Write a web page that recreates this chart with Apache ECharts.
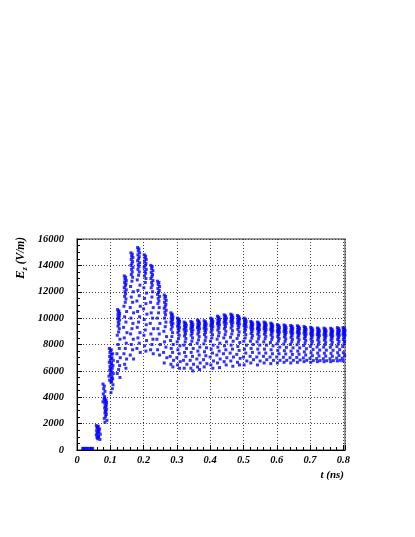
<!DOCTYPE html>
<html>
<head>
<meta charset="utf-8">
<script src="https://cdn.jsdelivr.net/npm/echarts@6/dist/echarts.min.js"></script>
<style>
    html, body {margin: 0; padding: 0; background: #fff;}
    #chart {width: 415px; height: 537px;}
</style>
</head>
<body>
<div id="chart"></div>
<script>
// time of each column of samples (ns)
const stripeT = [0.017, 0.021, 0.025, 0.029, 0.033, 0.039, 0.043, 0.047,
    0.061, 0.067, 0.081, 0.086, 0.100, 0.106,
    0.125, 0.145, 0.165, 0.185, 0.205, 0.225, 0.245, 0.265, 0.285, 0.305,
    0.325, 0.345, 0.365, 0.385, 0.405, 0.425, 0.445, 0.465, 0.485, 0.505,
    0.525, 0.545, 0.565, 0.585, 0.605, 0.625, 0.645, 0.665, 0.685, 0.705,
    0.725, 0.745, 0.765, 0.785, 0.802];

// small time shift (ns) of the n-th sample inside a column, the columns are a few px wide
const subT = [-0.003, 0.001, -0.001, 0.003, -0.002, 0.002, 0, -0.003, 0.003, -0.001,
    0.001, -0.002, 0.002, 0, -0.004, 0.004, -0.002, 0.002, -0.005, 0.005,
    -0.003, 0.003, 0, -0.004, 0.004, -0.002, 0.002, -0.005, 0.005];

// Ez values (V/m), top to bottom
const stripeE = [
    [120], [120], [120], [120], [120], [120], [120], [120],
    [1850, 1750, 1650, 1550, 1450, 1350, 1250, 1150, 1050, 950, 850],
    [1800, 1600, 1400, 1200, 1000, 800],
    [5000, 4850, 4650, 4450, 4250, 4050, 3850, 3650],
    [3950, 3800, 3700, 3600, 3500, 3400, 3300, 3200, 3100, 3000, 2900, 2800, 2700, 2550, 2400, 2250, 2100],
    [7700, 7550, 7400, 7250, 7100, 6950, 6800, 6650, 6500, 6350, 6200, 6050, 5900, 5750, 5600, 5450, 5300, 5150],
    [7600, 7300, 7000, 6800, 6600, 6400, 6200, 6000, 5800, 5600, 5400, 5200, 4950, 4650, 4350],
    [10650, 10550, 10450, 10350, 10250, 10150, 10050, 9950, 9850, 9700, 9550, 9400, 9200, 8950, 8700, 8400, 8000, 7700, 7300, 7000, 6700, 6400, 6100, 5800, 5500],
    [13200, 13100, 12950, 12850, 12700, 12600, 12450, 12300, 12150, 12000, 11850, 11650, 11450, 11200, 10900, 10500, 10100, 9700, 9300, 8900, 8500, 8100, 7700, 7300, 6900, 6500, 6200],
    [14950, 14850, 14700, 14600, 14450, 14300, 14150, 14000, 13850, 13700, 13500, 13300, 13100, 12800, 12400, 12000, 11600, 11200, 10800, 10400, 10000, 9600, 9200, 8800, 8400, 8000, 7600, 7200, 6900],
    [15350, 15250, 15100, 14950, 14800, 14650, 14500, 14350, 14200, 14050, 13900, 13700, 13500, 13250, 12900, 12500, 12100, 11700, 11300, 10900, 10500, 10100, 9700, 9300, 8900, 8500, 8100, 7700, 7400],
    [14800, 14700, 14550, 14450, 14300, 14150, 14000, 13850, 13700, 13550, 13400, 13200, 13000, 12700, 12300, 11900, 11500, 11100, 10700, 10300, 9900, 9500, 9100, 8700, 8300, 7900, 7500],
    [14000, 13900, 13750, 13600, 13450, 13300, 13150, 13000, 12850, 12700, 12500, 12300, 12000, 11600, 11200, 10800, 10400, 10000, 9600, 9200, 8800, 8400, 8000, 7600, 7300],
    [12800, 12700, 12550, 12400, 12250, 12100, 11950, 11800, 11650, 11500, 11300, 11100, 10800, 10400, 10000, 9600, 9200, 8800, 8400, 8000, 7600, 7200],
    [11750, 11650, 11500, 11350, 11200, 11050, 10900, 10750, 10600, 10450, 10250, 10000, 9700, 9350, 9000, 8600, 8200, 7800, 7400, 7000, 6600],
    [10400, 10300, 10200, 10100, 10000, 9900, 9800, 9700, 9600, 9500, 9350, 9150, 8900, 8600, 8300, 8000, 7700, 7400, 7100, 6800, 6500, 6300],
    [10000, 9920, 9840, 9760, 9680, 9600, 9500, 9400, 9300, 9200, 9050, 8900, 8700, 8450, 8200, 7900, 7600, 7300, 7000, 6700, 6450, 6200],
    [9700, 9620, 9550, 9480, 9400, 9320, 9240, 9150, 9050, 8950, 8800, 8650, 8450, 8200, 7950, 7700, 7400, 7100, 6800, 6500, 6200],
    [9750, 9680, 9600, 9520, 9440, 9360, 9280, 9200, 9100, 9000, 8850, 8700, 8500, 8250, 8000, 7700, 7400, 7100, 6800, 6500, 6200, 6000],
    [9850, 9770, 9690, 9610, 9530, 9450, 9370, 9290, 9200, 9100, 8950, 8800, 8600, 8350, 8100, 7800, 7500, 7200, 6900, 6600, 6300, 6100],
    [9800, 9720, 9640, 9560, 9480, 9400, 9320, 9240, 9150, 9050, 8900, 8750, 8550, 8300, 8050, 7750, 7450, 7150, 6850, 6550, 6300],
    [10000, 9920, 9840, 9760, 9680, 9600, 9520, 9440, 9350, 9250, 9100, 8950, 8750, 8500, 8250, 7950, 7650, 7350, 7050, 6750, 6450, 6200],
    [10150, 10070, 9990, 9910, 9830, 9750, 9670, 9590, 9500, 9400, 9250, 9100, 8900, 8650, 8400, 8100, 7800, 7500, 7200, 6900, 6600, 6250],
    [10250, 10170, 10090, 10010, 9930, 9850, 9770, 9690, 9600, 9500, 9350, 9200, 9000, 8750, 8500, 8200, 7900, 7600, 7300, 7000, 6700, 6450],
    [10300, 10220, 10140, 10060, 9980, 9900, 9820, 9740, 9650, 9550, 9400, 9250, 9050, 8800, 8550, 8250, 7950, 7650, 7350, 7050, 6750, 6350],
    [10200, 10120, 10040, 9960, 9880, 9800, 9720, 9640, 9550, 9450, 9300, 9150, 8950, 8700, 8450, 8150, 7850, 7550, 7250, 6950, 6650, 6450],
    [10000, 9920, 9840, 9760, 9680, 9600, 9520, 9440, 9350, 9250, 9100, 8950, 8750, 8500, 8250, 7950, 7650, 7350, 7050, 6750, 6450],
    [9750, 9680, 9610, 9540, 9470, 9400, 9330, 9260, 9180, 9100, 8970, 8840, 8680, 8480, 8250, 8000, 7700, 7400, 7100, 6850, 6600],
    [9700, 9630, 9560, 9490, 9420, 9350, 9280, 9210, 9130, 9050, 8920, 8790, 8630, 8430, 8200, 7950, 7650, 7350, 7050, 6750, 6450],
    [9700, 9630, 9560, 9490, 9420, 9350, 9280, 9210, 9130, 9050, 8920, 8790, 8630, 8430, 8200, 7950, 7650, 7350, 7100, 6850, 6600],
    [9620, 9550, 9480, 9410, 9340, 9270, 9200, 9130, 9050, 8970, 8850, 8720, 8570, 8380, 8150, 7900, 7600, 7300, 7050, 6800, 6550],
    [9500, 9430, 9360, 9290, 9220, 9150, 9080, 9010, 8930, 8850, 8730, 8600, 8450, 8260, 8050, 7800, 7550, 7300, 7050, 6800, 6600],
    [9480, 9410, 9340, 9270, 9200, 9130, 9060, 8990, 8910, 8830, 8710, 8580, 8430, 8240, 8030, 7780, 7530, 7280, 7030, 6800, 6650],
    [9440, 9370, 9300, 9230, 9160, 9090, 9020, 8950, 8870, 8790, 8670, 8540, 8390, 8200, 8000, 7750, 7500, 7250, 7000, 6800, 6600],
    [9420, 9350, 9280, 9210, 9140, 9070, 9000, 8930, 8850, 8770, 8650, 8520, 8370, 8180, 7980, 7740, 7500, 7260, 7020, 6820, 6650],
    [9360, 9290, 9220, 9150, 9080, 9010, 8940, 8870, 8790, 8710, 8590, 8460, 8310, 8120, 7920, 7680, 7440, 7200, 6980, 6800, 6700],
    [9300, 9230, 9160, 9090, 9020, 8950, 8880, 8810, 8730, 8650, 8530, 8400, 8250, 8060, 7860, 7620, 7380, 7150, 6950, 6780, 6650],
    [9250, 9180, 9110, 9040, 8970, 8900, 8830, 8760, 8680, 8600, 8480, 8350, 8200, 8010, 7810, 7580, 7350, 7130, 6930, 6780, 6700],
    [9240, 9170, 9100, 9030, 8960, 8890, 8820, 8750, 8670, 8590, 8470, 8340, 8190, 8000, 7800, 7570, 7340, 7120, 6920, 6770, 6700],
    [9230, 9160, 9090, 9020, 8950, 8880, 8810, 8740, 8660, 8580, 8460, 8330, 8180, 7990, 7790, 7560, 7330, 7110, 6920, 6780, 6700],
    [9280, 9210, 9140, 9070, 9000, 8930, 8860, 8790, 8710, 8630, 8510, 8380, 8230, 8040, 7840, 7610, 7380, 7160, 6960, 6800, 6750],
    [9280, 9210, 9140, 9070, 9000, 8930, 8860, 8790, 8710, 8630, 8510, 8380, 8230, 8040, 7840, 7610, 7380, 7160, 6960, 6800, 6750]
];

const xTicks = ['0', '0.1', '0.2', '0.3', '0.4', '0.5', '0.6', '0.7', '0.8'];

// flatten columns into [t, E] points
let points = [];
for (let i = 0; i < stripeT.length; i++) {
    for (let j = 0; j < stripeE[i].length; j++) {
        let dt = stripeE[i].length > 1 ? subT[j] : 0;
        points.push([stripeT[i] + dt, stripeE[i][j]]);
    }
}

const labelFont = {
    fontFamily: 'Liberation Serif',
    fontStyle: 'italic',
    fontWeight: 'bold',
    fontSize: 10.5,
    color: '#000'
};

const chart = echarts.init(document.getElementById('chart'), null, {renderer: 'canvas'});

chart.setOption({
    animation: false,
    backgroundColor: '#fff',
    grid: {
        left: 77,
        right: 70,
        top: 239,
        bottom: 87,
        show: true,
        borderColor: '#777',
        borderWidth: 1.5
    },
    xAxis: {
        type: 'value',
        min: 0,
        max: 0.805,
        interval: 0.1,
        name: 't (ns)',
        nameLocation: 'end',
        nameGap: -1,
        nameTextStyle: {
            fontFamily: 'Liberation Serif',
            fontStyle: 'italic',
            fontWeight: 'bold',
            fontSize: 11,
            color: '#000',
            align: 'right',
            verticalAlign: 'top',
            padding: [20, 0, 0, 0]
        },
        axisLine: {onZero: false, lineStyle: {color: '#000', width: 1}},
        axisTick: {inside: true, length: 5, lineStyle: {color: '#000'}},
        minorTick: {show: true, splitNumber: 5, length: 3, lineStyle: {color: '#000'}},
        axisLabel: Object.assign({
            margin: 5,
            showMaxLabel: false,
            formatter: function (v) {
                let k = Math.round(v * 10);
                return Math.abs(v * 10 - k) < 1e-6 ? xTicks[k] : '';
            }
        }, labelFont),
        splitLine: {show: true, lineStyle: {color: '#444', type: [1, 2], width: 1}}
    },
    yAxis: {
        type: 'value',
        min: 0,
        max: 16000,
        interval: 2000,
        name: '{e|E}{s|z}{u| (V/m)}',
        nameLocation: 'end',
        nameRotate: 90,
        nameGap: -40,
        nameTextStyle: {
            align: 'left',
            verticalAlign: 'bottom',
            padding: [0, 0, 48, 0],
            rich: {
                e: {fontFamily: 'Liberation Serif', fontStyle: 'italic', fontWeight: 'bold', fontSize: 13, color: '#000'},
                s: {fontFamily: 'Liberation Serif', fontStyle: 'italic', fontWeight: 'bold', fontSize: 8, color: '#000', padding: [8, 0, 0, 0]},
                u: {fontFamily: 'Liberation Serif', fontStyle: 'italic', fontWeight: 'bold', fontSize: 11.5, color: '#000'}
            }
        },
        axisLine: {onZero: false, lineStyle: {color: '#000', width: 1}},
        axisTick: {inside: true, length: 5, lineStyle: {color: '#000'}},
        minorTick: {show: true, splitNumber: 4, length: 3, lineStyle: {color: '#000'}},
        axisLabel: Object.assign({
            margin: 13,
            formatter: function (v) {
                return String(v);
            }
        }, labelFont),
        splitLine: {show: true, lineStyle: {color: '#444', type: [1, 2], width: 1}}
    },
    series: [{
        type: 'scatter',
        data: points,
        symbol: 'rect',
        symbolSize: 3,
        itemStyle: {color: '#0000ff'},
        silent: true
    }]
});
</script>
</body>
</html>
